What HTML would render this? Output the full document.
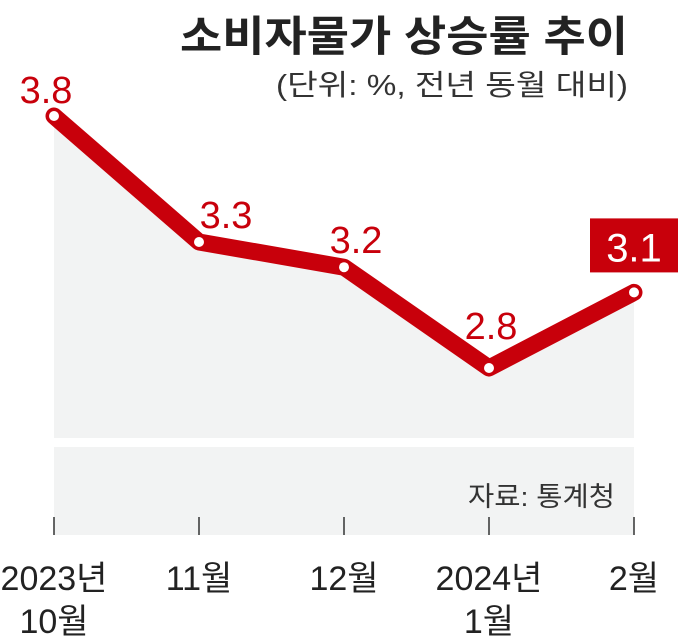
<!DOCTYPE html>
<html><head><meta charset="utf-8"><style>
body{margin:0;background:#fff;}
svg text{font-family:"Liberation Sans","Noto Sans CJK KR",sans-serif;}
</style></head><body>
<svg width="680" height="638" viewBox="0 0 680 638">
<text x="628" y="51" text-anchor="end" font-size="42" font-weight="bold" fill="#222" textLength="448" lengthAdjust="spacingAndGlyphs">소비자물가 상승률 추이</text>
<text x="628" y="95" text-anchor="end" font-size="29" fill="#333" textLength="352" lengthAdjust="spacingAndGlyphs">(단위: %, 전년 동월 대비)</text>
<rect x="54" y="447" width="580" height="88" fill="#f2f3f3"/>
<text x="615" y="506" text-anchor="end" font-size="27" fill="#333" textLength="147" lengthAdjust="spacingAndGlyphs">자료: 통계청</text>
<g id="plot"></g>
</svg>
<script>
const categories=["2023년|10월","11월","12월","2024년|1월","2월"];
const values=[3.8,3.3,3.2,2.8,3.1];
const labels=["3.8","3.3","3.2","2.8","3.1"];
const NS="http://www.w3.org/2000/svg";
const g=document.getElementById('plot');
function xs(i){return 54+i*145;}
function ys(v){return 116+(3.8-v)*252;}
function mk(t,a){const e=document.createElementNS(NS,t);for(const k in a)e.setAttribute(k,a[k]);g.appendChild(e);return e;}
let pts=values.map((v,i)=>xs(i)+","+ys(v)).join(" ");
let area=mk('polygon',{points:xs(0)+",438 "+pts+" "+xs(values.length-1)+",438",fill:"#f2f3f3"});


let line=mk('polyline',{points:pts,fill:"none",stroke:"#c8000b","stroke-width":17,"stroke-linejoin":"round","stroke-linecap":"round"});


const lo=[[-8,-26],[27,-27],[12,-27],[2,-42],[0,0]];
values.forEach((v,i)=>{
  let c=mk('circle',{cx:xs(i),cy:ys(v),r:5,fill:"#fff"});
  
  
  let tk=mk('line',{x1:xs(i),x2:xs(i),y1:517,y2:535,stroke:"#333","stroke-width":1.5});
  
  
  const parts=categories[i].split("|");
  parts.forEach((p,j)=>{
    let t=mk('text',{x:xs(i),y:590+j*43,"text-anchor":"middle","font-size":34,fill:"#222"});
    t.textContent=p;
    
    
  });
  if(i===values.length-1){
    let r=mk('rect',{x:xs(i)-44,y:ys(v)-74,width:88,height:54,fill:"#c8000b"});
    
    
    let t=mk('text',{x:xs(i),y:ys(v)-31,"text-anchor":"middle","font-size":40,fill:"#fff"});
    t.textContent=labels[i];
    
    
  } else {
    let t=mk('text',{x:xs(i)+lo[i][0],y:ys(v)+lo[i][1]+13,"text-anchor":"middle","font-size":38,fill:"#c8000b"});
    t.textContent=labels[i];
    
    
  }
});
</script>
</body></html>
